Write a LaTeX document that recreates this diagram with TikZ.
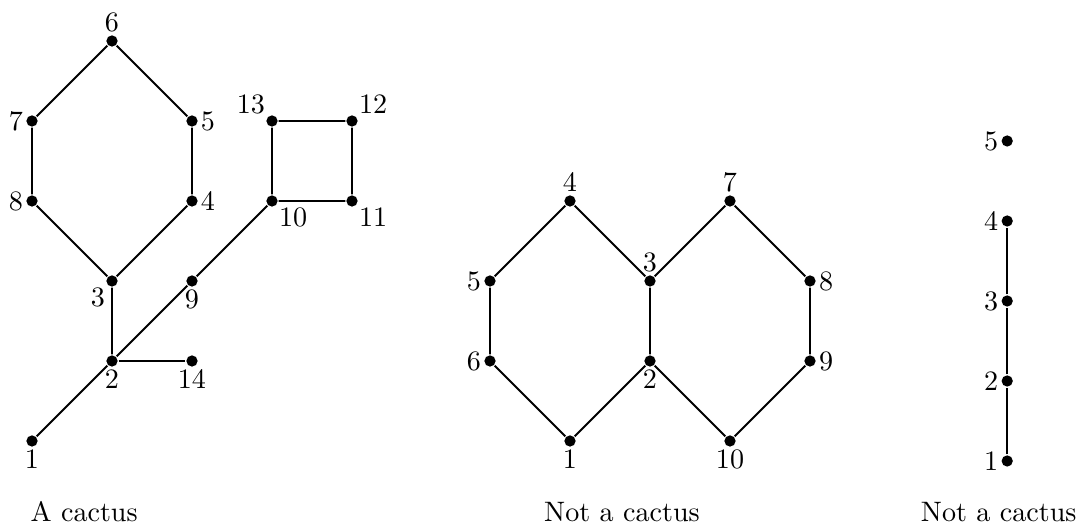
\documentclass[tikz,border=0pt]{standalone}
\usepackage{amsmath}
\usepackage{tikz}
\usetikzlibrary{arrows.meta}

\begin{document}
\begin{tikzpicture}[scale=1.0, line width=0.7pt,
		vtx/.style={circle, fill, inner sep=0pt, minimum size=4pt},
		every label/.style={inner sep=0.5pt},
		caption/.style={anchor=base west, inner sep=0pt}]
		
		% Fix the page size
		\useasboundingbox (-0.4,-1.05) rectangle (13.075,5.5125);
		
		% Vertices of the cactus
		\node[vtx, label=below:$1$] (a1) at (0,0) {};
		\node[vtx, label=below:$2$] (a2) at (1,1) {};
		\node[vtx, label=below left:$3$] (a3) at (1,2) {};
		\node[vtx, label=right:$4$] (a4) at (2,3) {};
		\node[vtx, label=right:$5$] (a5) at (2,4) {};
		\node[vtx, label=above:$6$] (a6) at (1,5) {};
		\node[vtx, label=left:$7$] (a7) at (0,4) {};
		\node[vtx, label=left:$8$] (a8) at (0,3) {};
		\node[vtx, label=below:$9$] (a9) at (2,2) {};
		\node[vtx, label=below right:$10$] (a10) at (3,3) {};
		\node[vtx, label=below right:$11$] (a11) at (4,3) {};
		\node[vtx, label=above right:$12$] (a12) at (4,4) {};
		\node[vtx, label=above left:$13$] (a13) at (3,4) {};
		\node[vtx, label=below:$14$] (a14) at (2,1) {};
		
		% Edges of the cactus
		\draw (a1) -- (a2) -- (a3) -- (a4) -- (a5) -- (a6) -- (a7) -- (a8) -- (a3);
		\draw (a2) -- (a9) -- (a10) -- (a11) -- (a12) -- (a13) -- (a10);
		\draw (a2) -- (a14);
		
		% Two hexagons sharing an edge
		\node[vtx, label=below:$1$] (b1) at (6.725,0) {};
		\node[vtx, label=below:$2$] (b2) at (7.725,1) {};
		\node[vtx, label=above:$3$] (b3) at (7.725,2) {};
		\node[vtx, label=above:$4$] (b4) at (6.725,3) {};
		\node[vtx, label=left:$5$] (b5) at (5.725,2) {};
		\node[vtx, label=left:$6$] (b6) at (5.725,1) {};
		\node[vtx, label=above:$7$] (b7) at (8.725,3) {};
		\node[vtx, label=right:$8$] (b8) at (9.725,2) {};
		\node[vtx, label=right:$9$] (b9) at (9.725,1) {};
		\node[vtx, label=below:$10$] (b10) at (8.725,0) {};
		
		\draw (b1) -- (b2) -- (b3) -- (b4) -- (b5) -- (b6) -- (b1);
		\draw (b3) -- (b7) -- (b8) -- (b9) -- (b10) -- (b2);
		
		% A path plus an isolated vertex
		\node[vtx, label=left:$1$] (c1) at (12.19,-0.25) {};
		\node[vtx, label=left:$2$] (c2) at (12.19,0.75) {};
		\node[vtx, label=left:$3$] (c3) at (12.19,1.75) {};
		\node[vtx, label=left:$4$] (c4) at (12.19,2.75) {};
		\node[vtx, label=left:$5$] (c5) at (12.19,3.75) {};
		
		\draw (c1) -- (c2) -- (c3) -- (c4);
		
		% Captions
		\node[caption] (capA) at (-0.03,-1.01) {A cactus};
		\node[caption] (capB) at (6.39,-1.01) {Not a cactus};
		\node[caption] (capC) at (11.1,-1.01) {Not a cactus};
		
	\end{tikzpicture}
\end{document}
